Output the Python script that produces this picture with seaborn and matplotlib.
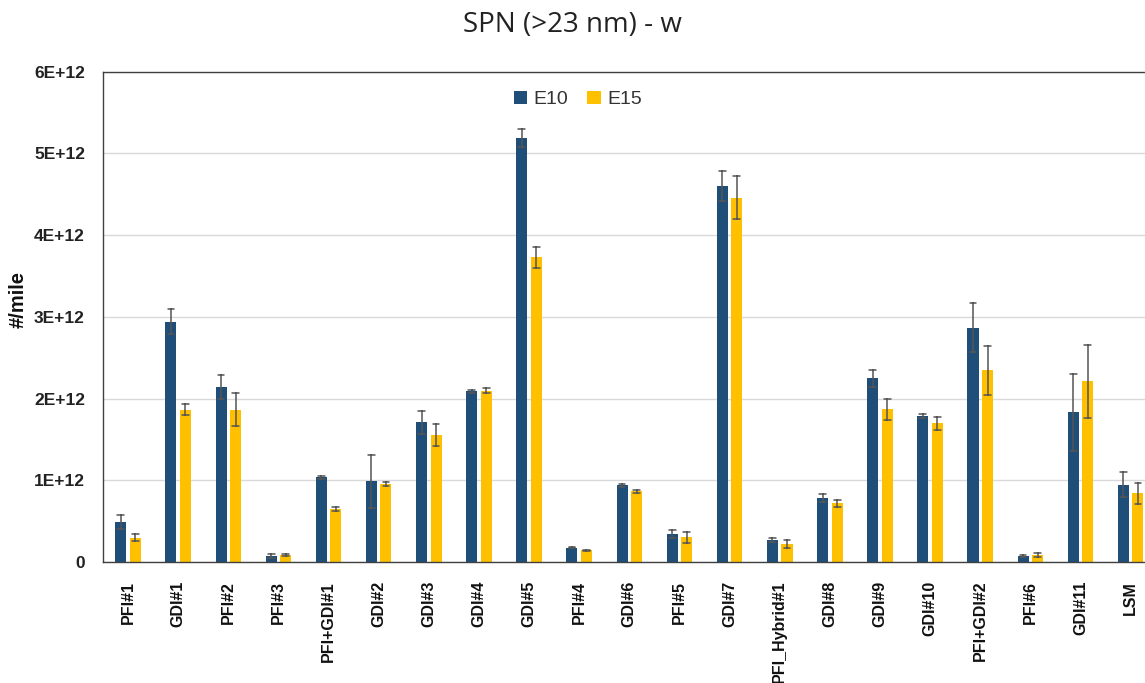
import numpy as np
import pandas as pd
import matplotlib
matplotlib.use("Agg")
import matplotlib.pyplot as plt
import seaborn as sns

categories = ['PFI#1', 'GDI#1', 'PFI#2', 'PFI#3', 'PFI+GDI#1', 'GDI#2', 'GDI#3',
              'GDI#4', 'GDI#5', 'PFI#4', 'GDI#6', 'PFI#5', 'GDI#7', 'PFI_Hybrid#1',
              'GDI#8', 'GDI#9', 'GDI#10', 'PFI+GDI#2', 'PFI#6', 'GDI#11', 'LSM']
# values in units of 1E+12 #/mile
e10 = [0.485, 2.94, 2.14, 0.073, 1.035, 0.986, 1.71, 2.09, 5.19, 0.175, 0.937,
       0.342, 4.60, 0.269, 0.786, 2.25, 1.788, 2.864, 0.073, 1.83, 0.945]
e10_err = [0.085, 0.15, 0.147, 0.02, 0.02, 0.32, 0.143, 0.016, 0.114, 0.005, 0.015,
           0.049, 0.187, 0.03, 0.049, 0.104, 0.026, 0.30, 0.015, 0.468, 0.153]
e15 = [0.297, 1.866, 1.866, 0.085, 0.652, 0.957, 1.556, 2.098, 3.727, 0.143, 0.864,
       0.301, 4.46, 0.216, 0.717, 1.87, 1.70, 2.346, 0.085, 2.21, 0.84]
e15_err = [0.045, 0.065, 0.205, 0.01, 0.025, 0.027, 0.136, 0.035, 0.132, 0.005, 0.02,
           0.063, 0.26, 0.05, 0.043, 0.128, 0.08, 0.297, 0.02, 0.448, 0.128]
fuels = ['E10', 'E15']
yticks = [0, 1, 2, 3, 4, 5, 6]
ytick_labels = ['0', '1E+12', '2E+12', '3E+12', '4E+12', '5E+12', '6E+12']

# long table: low / high end of each error bar, mean gives the bar height
rows = []
for fuel, vals, errs in [('E10', e10, e10_err), ('E15', e15, e15_err)]:
    for c, v, e in zip(categories, vals, errs):
        rows.append((c, fuel, (v - e) * 1e12))
        rows.append((c, fuel, (v + e) * 1e12))
df = pd.DataFrame(rows, columns=['test', 'fuel', 'value'])

sns.set_style("white")
plt.rcParams['font.family'] = ['Liberation Sans', 'DejaVu Sans']

fig = plt.figure(figsize=(11.45, 6.83), dpi=100)
# plot area runs past the right edge, the picture is cropped there
ax = fig.add_axes([103 / 1145, 1 - 562 / 683, 1052.7 / 1145, (562 - 71.7) / 683])

sns.barplot(data=df, x='test', y='value', hue='fuel', order=categories,
            hue_order=fuels, palette={'E10': '#1F4E79', 'E15': '#FFC000'},
            width=0.58, gap=0.24, linewidth=0, saturation=1,
            errorbar=lambda x: (x.min(), x.max()), capsize=0.27,
            err_kws={'linewidth': 1.1, 'color': '#555555'}, ax=ax)

ax.set_ylim(0, 6e12)
ax.set_yticks([t * 1e12 for t in yticks])
ax.set_yticklabels(ytick_labels, fontsize=12.5, fontweight='bold', color='#222222')
ax.tick_params(axis='y', length=0, pad=13)
ax.tick_params(axis='x', length=0, pad=13.5)
ax.set_xticks(range(len(categories)))
ax.set_xticklabels(categories, rotation=90, fontsize=11.5, fontweight='bold',
                   color='#111111')
ax.yaxis.grid(True, color='#D9D9D9', linewidth=1)
ax.set_axisbelow(True)
for s in ['left', 'bottom', 'top', 'right']:
    ax.spines[s].set_color('#404040')
    ax.spines[s].set_linewidth(1)

ax.set_xlabel('')
ax.set_ylabel('')
fig.text(18 / 1145, 1 - 300 / 683, '#/mile', rotation=90, ha='center', va='center',
         fontsize=14.5, fontweight='bold', color='#111111')

sns.move_legend(ax, 'center', bbox_to_anchor=(0.451, 0.943), ncol=2,
                frameon=False, title=None, fontsize=14, handlelength=0.7,
                handleheight=0.7, handletextpad=0.3, columnspacing=1.0)
for t in ax.get_legend().get_texts():
    t.set_color('#333333')

fig.suptitle('SPN (>23 nm) - w', x=0.5, y=1 - 25 / 683, va='center',
             fontsize=20, color='#222222', family=['Open Sans', 'DejaVu Sans'])

fig.savefig('out.png', dpi=100)
